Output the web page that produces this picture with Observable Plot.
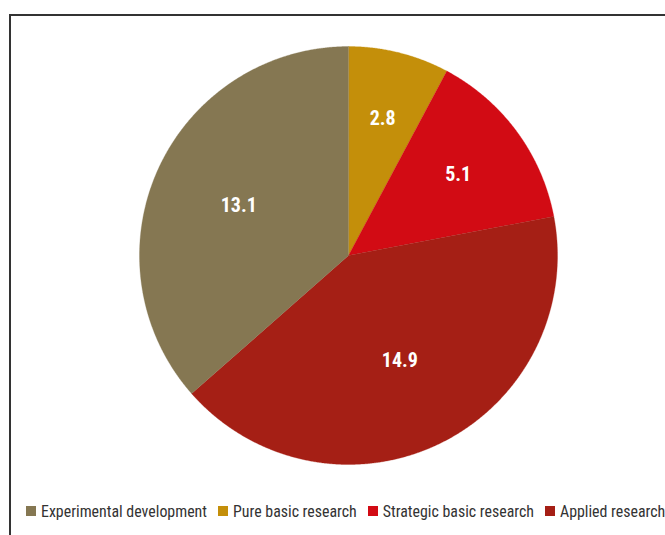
<!DOCTYPE html>
<html><head><meta charset="utf-8">
<script src="https://cdn.jsdelivr.net/npm/d3@7"></script>
<script src="https://cdn.jsdelivr.net/npm/@observablehq/plot@0.6"></script>
<style>
body{margin:0;background:#fff;}
#wrap{position:relative;width:665px;height:535px;overflow:hidden;background:#fff;}
#frame{position:absolute;left:9px;top:14px;width:900px;height:900px;border:2px solid #333;box-sizing:border-box;}
#chart{position:absolute;left:0;top:0;}
#legend{position:absolute;left:26px;top:500px;width:720px;}
#legend .lg-swatches-wrap{min-height:22px;flex-wrap:nowrap;}
#legend .lg-swatch{margin-right:11px;}
#legend .lg-swatch svg{margin-right:5px;}
</style>
</head><body>
<div id="wrap"><div id="frame"></div><div id="chart"></div><div id="legend"></div></div>
<script>
// Data (clockwise from 12 o'clock)
const categories = ["Pure basic research", "Strategic basic research", "Applied research", "Experimental development"];
const values = [2.8, 5.1, 14.9, 13.1];
const colors = ["#C48F0A", "#D20B14", "#A51F15", "#857752"];
const legendOrder = ["Experimental development", "Pure basic research", "Strategic basic research", "Applied research"];

const FONT = "'Roboto Condensed','Liberation Sans Narrow','Arial Narrow',Roboto,sans-serif";
const W = 665, H = 490, CX = 348, CY = 255, R = 209;

const rows = categories.map((c, i) => ({category: c, value: values[i]}));
const arcs = d3.pie().sort(null).value(d => d.value)(rows);

// Slice polygons in unit coordinates (y up)
const pts = [];
arcs.forEach(a => {
  const c = a.data.category;
  pts.push({category: c, x: 0, y: 0});
  const n = Math.max(8, Math.ceil((a.endAngle - a.startAngle) / 0.005));
  for (let k = 0; k <= n; k++) {
    const t = a.startAngle + (a.endAngle - a.startAngle) * k / n;
    pts.push({category: c, x: Math.sin(t), y: Math.cos(t)});
  }
});
// Labels on the bisector; smaller slices get labels further out
const labels = arcs.map(a => {
  const m = (a.startAngle + a.endAngle) / 2;
  const f = 0.7 - 0.17 * (a.endAngle - a.startAngle) / Math.PI;
  return {category: a.data.category, x: f * Math.sin(m), y: f * Math.cos(m), text: d3.format(".1f")(a.data.value)};
});

const chart = Plot.plot({
  width: W, height: H, margin: 0,
  x: {domain: [-CX / R, (W - CX) / R], range: [0, W], axis: null},
  y: {domain: [-(H - CY) / R, CY / R], range: [H, 0], axis: null},
  color: {domain: categories, range: colors},
  style: {background: "transparent", overflow: "visible"},
  marks: [
    Plot.line(pts, {x: "x", y: "y", z: "category", fill: "category", stroke: "category", strokeWidth: 0.3, curve: "linear-closed"}),
    Plot.text(labels, {x: "x", y: "y", text: "text", fill: "white", fontSize: 20, fontWeight: "bold", fontFamily: FONT})
  ]
});
document.getElementById("chart").appendChild(chart);

const legend = Plot.legend({
  legend: "swatches",
  className: "lg",
  color: {domain: legendOrder, range: legendOrder.map(c => colors[categories.indexOf(c)])},
  swatchSize: 10,
  style: {fontFamily: FONT, fontSize: "15.9px", color: "#333"}
});
document.getElementById("legend").appendChild(legend);
</script>
</body></html>
